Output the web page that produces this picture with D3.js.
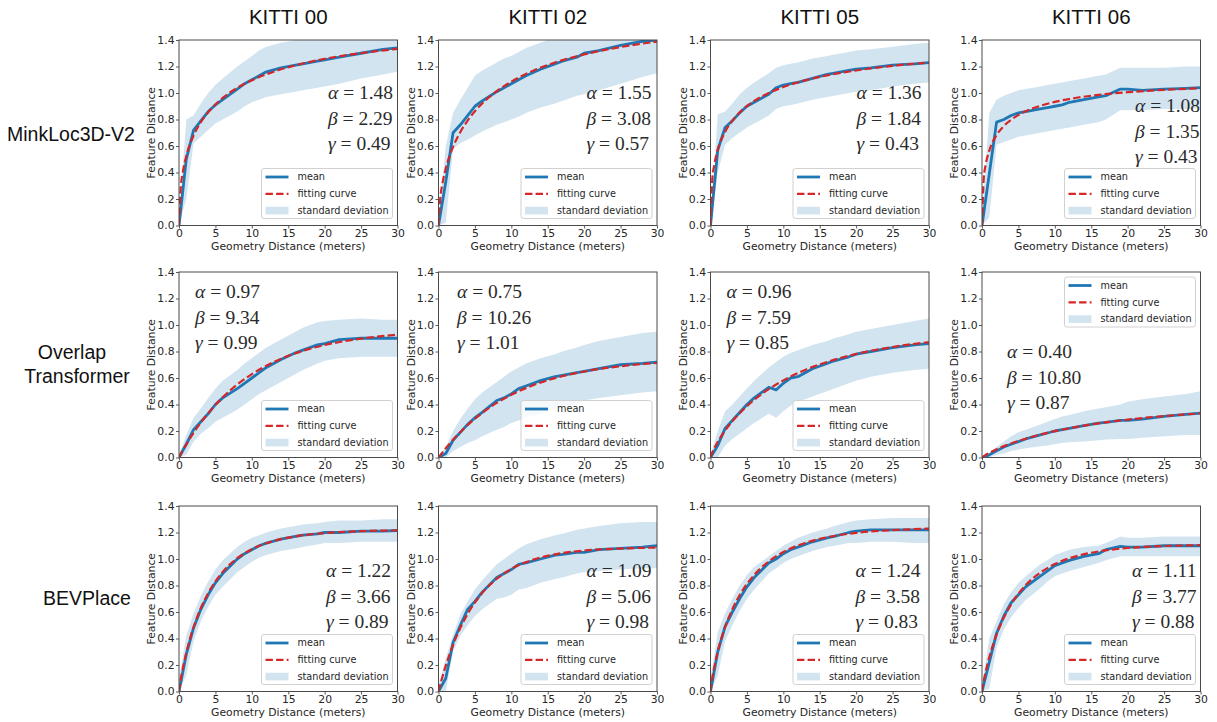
<!DOCTYPE html>
<html><head><meta charset="utf-8">
<script src="https://cdn.jsdelivr.net/npm/d3@7"></script>
<style>body{margin:0;background:#fff}svg{display:block}</style>
</head><body><svg id="c" width="1217" height="722"></svg>
<script>
// ---------------- DATA ----------------
const datasets = ["KITTI 00", "KITTI 02", "KITTI 05", "KITTI 06"];
const methods = ["MinkLoc3D-V2", "Overlap Transformer", "BEVPlace"];
const xTicks = [0, 5, 10, 15, 20, 25, 30];
const yTicks = [0, 0.2, 0.4, 0.6, 0.8, 1.0, 1.2, 1.4];
const legendLabels = ["mean", "fitting curve", "standard deviation"];
const xLabel = "Geometry Distance (meters)";
const yLabel = "Feature Distance";

// geometry distances at which mean / std were sampled
const meanX = [0,1,2,3,4,5,6,8,9,10,11,12,14,16,17,19,20,22,25,28,30];
// geometry distances at which the fitted curve was read
const fitX = [0,0.25,0.5,1,2,3,4,6,8,10,13,16,20,25,30];

// fitted parameters [row][col]
const alphaVals = [["1.48","1.55","1.36","1.08"],["0.97","0.75","0.96","0.40"],["1.22","1.09","1.24","1.11"]];
const betaVals  = [["2.29","3.08","1.84","1.35"],["9.34","10.26","7.59","10.80"],["3.66","5.06","3.58","3.77"]];
const gammaVals = [["0.49","0.57","0.43","0.43"],["0.99","1.01","0.85","0.87"],["0.89","0.98","0.83","0.88"]];

// MinkLoc3D-V2 (KITTI 00, 02, 05, 06)
const meanMink = [
 [0,0.50,0.72,0.79,0.86,0.91,0.95,1.03,1.07,1.10,1.13,1.16,1.19,1.21,1.22,1.24,1.25,1.27,1.30,1.33,1.34],
 [0,0.33,0.70,0.76,0.83,0.90,0.94,1.01,1.04,1.07,1.10,1.13,1.18,1.22,1.24,1.27,1.30,1.32,1.36,1.39,1.40],
 [0,0.57,0.74,0.79,0.85,0.90,0.93,0.99,1.04,1.06,1.07,1.08,1.11,1.14,1.15,1.17,1.18,1.19,1.21,1.22,1.23],
 [0,0.39,0.78,0.80,0.83,0.85,0.86,0.88,0.89,0.90,0.91,0.93,0.95,0.97,0.98,1.03,1.03,1.02,1.03,1.035,1.04]];
const upperMink = [
 [0.05,0.80,0.83,0.92,1.00,1.06,1.11,1.20,1.24,1.28,1.32,1.35,1.38,1.40,1.41,1.42,1.43,1.44,1.47,1.50,1.52],
 [0.05,0.60,0.85,0.95,1.04,1.13,1.17,1.23,1.26,1.28,1.31,1.34,1.38,1.42,1.44,1.47,1.48,1.50,1.54,1.57,1.60],
 [0.05,0.84,0.86,0.92,0.99,1.04,1.08,1.15,1.19,1.21,1.22,1.23,1.26,1.28,1.29,1.31,1.32,1.33,1.35,1.37,1.38],
 [0.05,0.85,0.95,0.98,1.00,1.02,1.03,1.05,1.06,1.07,1.08,1.09,1.11,1.13,1.14,1.19,1.19,1.19,1.19,1.20,1.20]];
const lowerMink = [
 [0,0.20,0.62,0.67,0.72,0.77,0.80,0.86,0.90,0.93,0.95,0.97,0.99,1.01,1.02,1.04,1.05,1.07,1.11,1.14,1.16],
 [0,0.02,0.58,0.62,0.65,0.68,0.71,0.76,0.78,0.80,0.82,0.85,0.89,0.92,0.94,0.98,0.99,1.02,1.07,1.12,1.15],
 [0,0.40,0.61,0.66,0.70,0.74,0.77,0.83,0.88,0.90,0.91,0.92,0.95,0.97,0.98,1.00,1.01,1.02,1.05,1.07,1.08],
 [0,0.06,0.61,0.63,0.65,0.67,0.68,0.70,0.71,0.72,0.73,0.74,0.76,0.78,0.80,0.87,0.87,0.87,0.88,0.88,0.885]];
const fitMink = [
 [0,0.294,0.396,0.524,0.678,0.780,0.854,0.963,1.039,1.096,1.161,1.209,1.258,1.301,1.333],
 [0,0.212,0.305,0.430,0.593,0.706,0.792,0.921,1.014,1.086,1.168,1.230,1.291,1.347,1.388],
 [0,0.352,0.452,0.570,0.706,0.791,0.853,0.940,1.000,1.045,1.095,1.133,1.170,1.205,1.230],
 [0,0.362,0.457,0.565,0.682,0.751,0.798,0.862,0.903,0.933,0.964,0.986,1.006,1.024,1.036]];

// Overlap Transformer
const meanOT = [
 [0,0.10,0.21,0.27,0.33,0.40,0.45,0.52,0.56,0.60,0.64,0.68,0.74,0.79,0.81,0.85,0.86,0.89,0.90,0.90,0.90],
 [0,0.03,0.13,0.19,0.25,0.30,0.34,0.43,0.45,0.48,0.52,0.54,0.58,0.61,0.62,0.64,0.65,0.67,0.70,0.71,0.72],
 [0,0.09,0.22,0.28,0.34,0.40,0.45,0.53,0.51,0.56,0.60,0.61,0.67,0.71,0.73,0.76,0.78,0.80,0.83,0.85,0.86],
 [0,0.02,0.05,0.08,0.10,0.12,0.14,0.17,0.185,0.20,0.21,0.22,0.24,0.26,0.265,0.28,0.28,0.29,0.31,0.325,0.335]];
const upperOT = [
 [0.02,0.17,0.30,0.37,0.45,0.52,0.58,0.66,0.71,0.75,0.79,0.83,0.89,0.95,0.98,1.02,1.03,1.04,1.05,1.04,1.04],
 [0.01,0.08,0.20,0.29,0.37,0.44,0.49,0.57,0.61,0.65,0.68,0.71,0.75,0.78,0.80,0.83,0.85,0.88,0.91,0.94,0.95],
 [0.02,0.20,0.35,0.40,0.46,0.52,0.58,0.68,0.72,0.76,0.79,0.81,0.85,0.88,0.90,0.93,0.95,0.97,1.00,1.03,1.05],
 [0,0.03,0.08,0.12,0.16,0.19,0.21,0.25,0.27,0.29,0.31,0.32,0.35,0.37,0.38,0.40,0.42,0.44,0.46,0.48,0.50]];
const lowerOT = [
 [0,0.02,0.12,0.18,0.22,0.27,0.30,0.36,0.40,0.44,0.48,0.51,0.57,0.63,0.66,0.71,0.73,0.75,0.76,0.76,0.76],
 [0,0.0,0.05,0.08,0.11,0.13,0.16,0.21,0.23,0.26,0.28,0.30,0.33,0.37,0.38,0.41,0.43,0.45,0.47,0.49,0.50],
 [0,0.0,0.09,0.14,0.18,0.22,0.26,0.33,0.30,0.35,0.39,0.42,0.46,0.50,0.52,0.56,0.58,0.61,0.64,0.66,0.67],
 [0,0,0.02,0.03,0.05,0.06,0.07,0.085,0.09,0.10,0.11,0.115,0.12,0.13,0.135,0.14,0.14,0.15,0.16,0.17,0.17]];
const fitOT = [
 [0,0.026,0.051,0.098,0.186,0.264,0.334,0.454,0.551,0.629,0.720,0.787,0.849,0.897,0.927],
 [0,0.018,0.035,0.070,0.134,0.192,0.245,0.336,0.412,0.473,0.546,0.599,0.649,0.689,0.714],
 [0,0.038,0.068,0.119,0.203,0.274,0.334,0.435,0.516,0.582,0.661,0.721,0.781,0.834,0.871],
 [0,0.011,0.020,0.035,0.062,0.086,0.106,0.142,0.173,0.199,0.231,0.258,0.286,0.313,0.333]];

// BEVPlace
const meanBEV = [
 [0,0.28,0.48,0.62,0.73,0.82,0.89,1.00,1.04,1.07,1.10,1.12,1.15,1.17,1.18,1.19,1.20,1.20,1.21,1.21,1.215],
 [0,0.10,0.37,0.50,0.62,0.68,0.75,0.86,0.89,0.92,0.96,0.97,1.00,1.03,1.035,1.05,1.05,1.07,1.08,1.09,1.10],
 [0,0.30,0.49,0.60,0.70,0.79,0.86,0.97,1.00,1.04,1.07,1.09,1.13,1.16,1.17,1.20,1.21,1.22,1.22,1.22,1.22],
 [0,0.22,0.44,0.57,0.67,0.73,0.79,0.87,0.91,0.95,0.97,0.99,1.02,1.04,1.07,1.095,1.09,1.09,1.10,1.10,1.10]];
const upperBEV = [
 [0.1,0.42,0.59,0.72,0.83,0.92,0.99,1.09,1.13,1.16,1.18,1.20,1.23,1.25,1.26,1.27,1.28,1.29,1.29,1.30,1.30],
 [0.05,0.25,0.43,0.58,0.68,0.77,0.84,0.96,1.00,1.04,1.08,1.11,1.15,1.18,1.19,1.22,1.23,1.25,1.27,1.28,1.28],
 [0.1,0.45,0.59,0.70,0.80,0.88,0.94,1.02,1.06,1.10,1.13,1.16,1.20,1.23,1.25,1.28,1.29,1.30,1.31,1.31,1.31],
 [0.05,0.40,0.53,0.66,0.75,0.82,0.87,0.96,0.99,1.03,1.05,1.07,1.09,1.10,1.12,1.17,1.16,1.16,1.17,1.17,1.17]];
const lowerBEV = [
 [0,0.12,0.38,0.53,0.64,0.73,0.79,0.90,0.94,0.98,1.01,1.03,1.06,1.08,1.09,1.11,1.12,1.12,1.13,1.13,1.13],
 [0,0.0,0.30,0.42,0.50,0.57,0.62,0.70,0.71,0.73,0.77,0.78,0.82,0.85,0.86,0.89,0.90,0.91,0.92,0.93,0.93],
 [0,0.12,0.38,0.50,0.61,0.70,0.77,0.89,0.93,0.97,1.00,1.02,1.06,1.09,1.10,1.12,1.12,1.13,1.13,1.12,1.12],
 [0,0.02,0.33,0.47,0.56,0.63,0.69,0.78,0.83,0.87,0.89,0.91,0.94,0.97,0.99,1.02,1.02,1.02,1.02,1.02,1.02]];
const fitBEV = [
 [0,0.093,0.167,0.292,0.485,0.630,0.742,0.903,1.006,1.074,1.136,1.171,1.196,1.210,1.216],
 [0,0.054,0.104,0.195,0.352,0.480,0.585,0.743,0.851,0.925,0.995,1.035,1.064,1.079,1.086],
 [0,0.105,0.180,0.302,0.485,0.621,0.727,0.880,0.982,1.053,1.121,1.164,1.197,1.218,1.229],
 [0,0.084,0.149,0.259,0.429,0.558,0.658,0.803,0.897,0.962,1.022,1.057,1.083,1.098,1.104]];

// ---------------- LAYOUT / STYLE ----------------
const layout = {
  colLeft: [179, 438.5, 710.5, 982],
  rowTop: [40, 272, 506],
  W: 218.5, H: 185.5,
  annotX: [[149,148,146,153],[16,18.5,16,25],[147,148,145,150]],
  annotY: [[93,93,93,106],[292,292,292,352],[571,571,571,571]],
  legendLoc: [["lower","lower","lower","lower"],["lower","lower","lower","upper"],["lower","lower","lower","lower"]],
  rowLabelX: [[71],[72,77],[87]],
  rowLabelY: [[141],[359,383],[605]]
};
const C = { mean: "#1f77b4", fit: "#d62728", band: "#1f77b4", text: "#262626", spine: "#4a4a4a" };
const sans = "'DejaVu Sans', sans-serif";

const meanSets = [meanMink, meanOT, meanBEV];
const upperSets = [upperMink, upperOT, upperBEV];
const lowerSets = [lowerMink, lowerOT, lowerBEV];
const fitSets = [fitMink, fitOT, fitBEV];

const svg = d3.select("#c");
const { W, H } = layout;
const x = d3.scaleLinear().domain([0, 30]).range([0, W]);
const y = d3.scaleLinear().domain([0, 1.4]).range([H, 0]);

// column titles
datasets.forEach((t, c) => {
  svg.append("text").attr("x", layout.colLeft[c] + W / 2).attr("y", 24)
    .attr("text-anchor", "middle").attr("font-family", "'Liberation Sans', Arial, sans-serif")
    .attr("font-size", 20.5).attr("fill", "#111").text(t);
});
// row labels
methods.forEach((m, r) => {
  m.split(" ").forEach((line, k) => {
    svg.append("text").attr("x", layout.rowLabelX[r][k]).attr("y", layout.rowLabelY[r][k])
      .attr("text-anchor", "middle").attr("font-family", "'Liberation Sans', Arial, sans-serif")
      .attr("font-size", 19.5).attr("fill", "#111").text(line);
  });
});

for (let r = 0; r < 3; r++) {
  for (let c = 0; c < 4; c++) {
    const g = svg.append("g").attr("transform", `translate(${layout.colLeft[c]},${layout.rowTop[r]})`);
    const id = `clip-${r}-${c}`;
    g.append("clipPath").attr("id", id).append("rect").attr("width", W).attr("height", H);
    const mean = meanSets[r][c], up = upperSets[r][c], lo = lowerSets[r][c], fit = fitSets[r][c];

    const plot = g.append("g").attr("clip-path", `url(#${id})`);
    plot.append("path")
      .attr("d", d3.area().x((d, i) => x(meanX[i])).y0((d, i) => y(lo[i])).y1((d, i) => y(up[i]))(mean))
      .attr("fill", C.band).attr("fill-opacity", 0.2);
    plot.append("path")
      .attr("d", d3.line().x((d, i) => x(meanX[i])).y(d => y(d))(mean))
      .attr("fill", "none").attr("stroke", C.mean).attr("stroke-width", 2.8).attr("stroke-linejoin", "round");
    plot.append("path")
      .attr("d", d3.line().curve(d3.curveMonotoneX).x((d, i) => x(fitX[i])).y(d => y(d))(fit))
      .attr("fill", "none").attr("stroke", C.fit).attr("stroke-width", 2.2).attr("stroke-dasharray", "7.4,3.2");

    // axes
    const ax = g.append("g").attr("transform", `translate(0,${H})`)
      .call(d3.axisBottom(x).tickValues(xTicks).tickSize(3).tickPadding(1).tickFormat(d3.format("d")));
    const ay = g.append("g")
      .call(d3.axisLeft(y).tickValues(yTicks).tickSize(3).tickPadding(1.5).tickFormat(d3.format(".1f")));
    [ax, ay].forEach(a => {
      a.select(".domain").remove();
      a.selectAll(".tick line").attr("stroke", C.spine).attr("stroke-width", 0.9);
      a.selectAll(".tick text").attr("font-family", sans).attr("font-size", 10.8).attr("fill", C.text);
    });
    g.append("rect").attr("width", W).attr("height", H).attr("fill", "none")
      .attr("stroke", C.spine).attr("stroke-width", 1);

    g.append("text").attr("x", W / 2).attr("y", H + 24).attr("text-anchor", "middle")
      .attr("font-family", sans).attr("font-size", 10.8).attr("fill", C.text).text(xLabel);
    g.append("text").attr("transform", `translate(-24,${H / 2}) rotate(-90)`).attr("text-anchor", "middle")
      .attr("font-family", sans).attr("font-size", 10.8).attr("fill", C.text).text(yLabel);

    // parameter annotation
    const params = [["α", alphaVals[r][c]], ["β", betaVals[r][c]], ["γ", gammaVals[r][c]]];
    params.forEach((p, k) => {
      const t = g.append("text").attr("x", layout.annotX[r][c])
        .attr("y", layout.annotY[r][c] - layout.rowTop[r] + 6 + k * 25.5)
        .attr("font-family", "'Liberation Serif', 'Times New Roman', serif").attr("font-size", 19.5).attr("fill", "#2a2a2a");
      t.append("tspan").attr("font-style", "italic").text(p[0]);
      t.append("tspan").text(" = " + p[1]);
    });

    // legend
    const LW = 131, LH = 50;
    const ly = layout.legendLoc[r][c] === "upper" ? 5 : H - 7 - LH;
    const lg = g.append("g").attr("transform", `translate(${W - 5 - LW},${ly})`);
    lg.append("rect").attr("width", LW).attr("height", LH).attr("rx", 2.5)
      .attr("fill", "#fff").attr("fill-opacity", 0.8).attr("stroke", "#cccccc").attr("stroke-width", 0.9);
    legendLabels.forEach((lab, k) => {
      const yy = 8.5 + k * 16.8;
      if (k === 0) lg.append("line").attr("x1", 4).attr("x2", 27).attr("y1", yy).attr("y2", yy)
        .attr("stroke", C.mean).attr("stroke-width", 2.8);
      if (k === 1) lg.append("line").attr("x1", 4).attr("x2", 27).attr("y1", yy).attr("y2", yy)
        .attr("stroke", C.fit).attr("stroke-width", 2.2).attr("stroke-dasharray", "7.4,3.2");
      if (k === 2) lg.append("rect").attr("x", 4).attr("y", yy - 3.8).attr("width", 23).attr("height", 7.6)
        .attr("fill", C.band).attr("fill-opacity", 0.2);
      lg.append("text").attr("x", 36).attr("y", yy).attr("dy", "0.35em")
        .attr("font-family", sans).attr("font-size", 9.7).attr("fill", C.text).text(lab);
    });
  }
}
</script></body></html>
